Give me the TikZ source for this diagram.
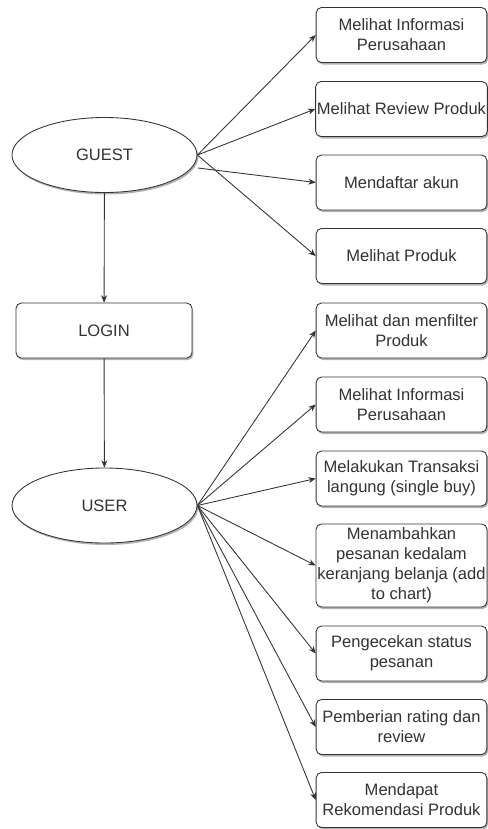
\documentclass[tikz,border=0pt]{standalone}
\usepackage{fontspec}
\setmainfont{Liberation Sans}
\usepackage{tikz}
\usetikzlibrary{arrows.meta,shapes.geometric,shadows}
\definecolor{ink}{HTML}{333333}

\begin{document}
\begin{tikzpicture}[x=0.75pt,y=-0.75pt,
 box/.style={rectangle,rounded corners=4pt,draw=ink,fill=white,line width=0.65pt,
 minimum width=128pt,minimum height=41.25pt,align=center,text=ink,inner sep=1pt,
 font=\fontsize{12.4}{15}\selectfont,
 drop shadow={shadow xshift=1pt,shadow yshift=-1.5pt,fill=black,opacity=0.3}},
 oval/.style={box,ellipse,minimum width=138.75pt,minimum height=56.25pt},
 arr/.style={draw=ink,line width=0.65pt,-{Stealth[length=5.5pt,width=4.5pt]}}]
\clip (0,0) rectangle (488,829);
\node[oval] (guest) at (104.5,155) {GUEST};
\node[box,minimum width=132pt] (login) at (104,330.5) {LOGIN};
\node[oval] (user) at (104.5,505.5) {USER};
\coordinate (gs) at (198,168);
\node[box] (g1) at (401.5,35) {Melihat Informasi\\Perusahaan};
\node[box] (g2) at (401.5,109) {Melihat Review Produk};
\node[box] (g3) at (401.5,182.5) {Mendaftar akun};
\node[box] (g4) at (401.5,256) {Melihat Produk};
\node[box] (u1) at (401.5,330.5) {Melihat dan menfilter\\Produk};
\node[box] (u2) at (401.5,404.5) {Melihat Informasi\\Perusahaan};
\node[box] (u3) at (401.5,478.5) {Melakukan Transaksi\\langung (single buy)};
\node[box,minimum height=62.25pt] (u4) at (401.5,565.5) {Menambahkan\\pesanan kedalam\\keranjang belanja (add\\to chart)};
\node[box] (u5) at (401.5,653.5) {Pengecekan status\\pesanan};
\node[box] (u6) at (401.5,727) {Pemberian rating dan\\review};
\node[box] (u7) at (401.5,800) {Mendapat\\Rekomendasi Produk};
\draw[arr] (guest) -- (login);
\draw[arr] (login) -- (user);
\foreach \u/\v in {guest.east/g1,guest.east/g2,gs/g3,guest.east/g4}{\draw[arr] (\u)--(\v.west);}
\foreach \v in {u1,u2,u3,u4,u5,u6,u7}{\draw[arr] (user.east)--(\v.west);}
\end{tikzpicture}
\end{document}
